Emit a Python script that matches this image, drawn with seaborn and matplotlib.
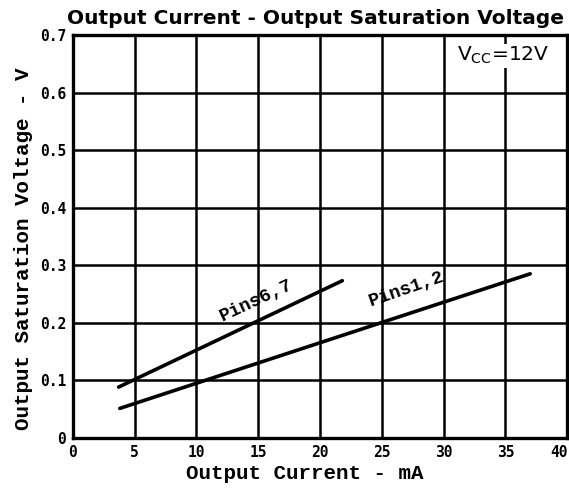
import matplotlib
matplotlib.use("Agg")
import matplotlib.pyplot as plt
import seaborn as sns
import pandas as pd

# Data
series_names = ["Pins6,7", "Pins1,2"]
pins67_current = [3.7, 21.8]
pins67_voltage = [0.088, 0.273]
pins12_current = [3.8, 37.0]
pins12_voltage = [0.051, 0.285]

x_ticks = [0, 5, 10, 15, 20, 25, 30, 35, 40]
y_ticks = [0, 0.1, 0.2, 0.3, 0.4, 0.5, 0.6, 0.7]
y_tick_labels = ["0", "0.1", "0.2", "0.3", "0.4", "0.5", "0.6", "0.7"]

title = "Output Current - Output Saturation Voltage"
x_label = "Output Current - mA"
y_label = "Output Saturation Voltage - V"

df = pd.DataFrame({
    "current": pins67_current + pins12_current,
    "voltage": pins67_voltage + pins12_voltage,
    "series": [series_names[0]] * len(pins67_current) + [series_names[1]] * len(pins12_current),
})

sns.set_theme(style="white")
plt.rcParams["font.family"] = ["DejaVu Sans"]

fig = plt.figure(figsize=(5.69, 4.91), dpi=100)
ax = fig.add_axes([0.128, 0.1085, 0.869, 0.82])

sns.lineplot(data=df, x="current", y="voltage", hue="series", units="series",
             estimator=None, palette=["black", "black"], linewidth=2.6,
             legend=False, ax=ax, zorder=3)

ax.set_xlim(0, 40)
ax.set_ylim(0, 0.7)
ax.set_xticks(x_ticks)
ax.set_yticks(y_ticks)
ax.set_xticklabels([str(t) for t in x_ticks], fontfamily="DejaVu Sans Mono",
                   fontweight="bold", fontsize=10.5)
ax.set_yticklabels(y_tick_labels, fontfamily="DejaVu Sans Mono",
                   fontweight="bold", fontsize=10.5)
ax.get_xticklabels()[-1].set_horizontalalignment("right")
ax.tick_params(axis="both", length=0, pad=5, colors="black")

ax.grid(True, color="black", linewidth=1.8, zorder=1)
ax.set_axisbelow(True)
for s in ax.spines.values():
    s.set_color("black")
    s.set_linewidth(2.4)

ax.set_xlabel(x_label, fontfamily="Liberation Mono", fontweight="bold",
              fontsize=15, color="black")
ax.xaxis.set_label_coords(0.47, -0.066)
ax.set_ylabel(y_label, fontfamily="Liberation Mono", fontweight="bold",
              fontsize=15, color="black")
ax.yaxis.set_label_coords(-0.08, 0.47)
fig.text(0.555, 0.962, title, ha="center", va="center", fontsize=14.5,
         fontweight="bold", fontfamily="DejaVu Sans", color="black")

ax.text(14.8, 0.238, "Pins6,7", rotation=25, ha="center", va="center",
        fontfamily="Liberation Mono", fontweight="bold", fontsize=13.5, color="black")
ax.text(27.0, 0.258, "Pins1,2", rotation=19, ha="center", va="center",
        fontfamily="Liberation Mono", fontweight="bold", fontsize=13.5, color="black")

ax.text(34.8, 0.664, r"$\mathregular{V_{CC}}$=12V", ha="center", va="center",
        fontsize=14.5, color="black", zorder=4,
        bbox=dict(facecolor="white", edgecolor="none", pad=1.0))

fig.savefig("out.png", dpi=100)
